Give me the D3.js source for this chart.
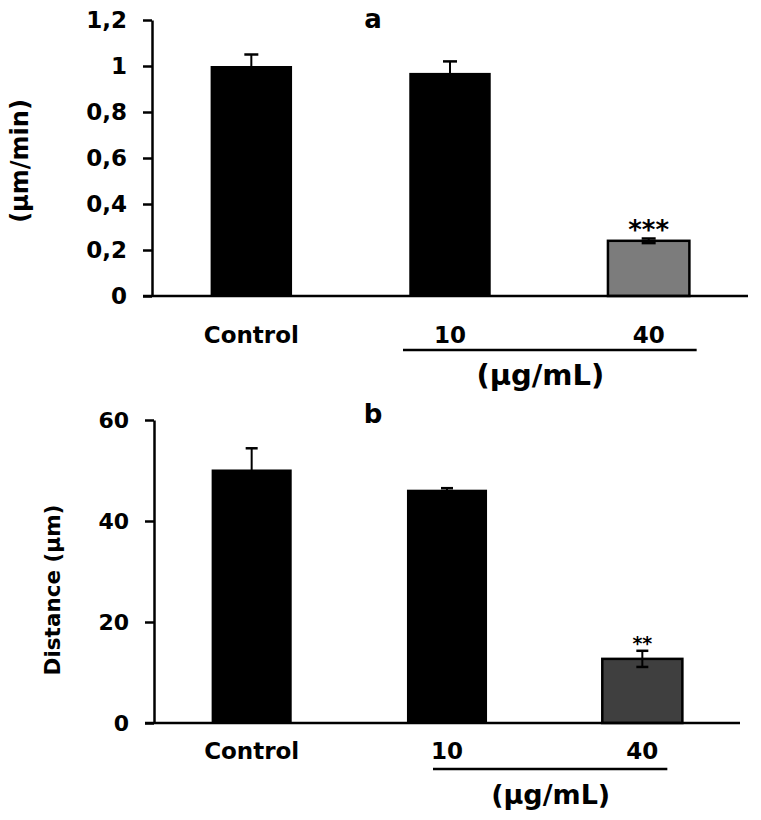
<!DOCTYPE html>
<html>
<head>
<meta charset="utf-8">
<script src="https://cdn.jsdelivr.net/npm/d3@7"></script>
<style>
  body { margin: 0; background: #fff; }
  svg text { font-family: "DejaVu Sans", Verdana, sans-serif; font-weight: bold; fill: #000; }
</style>
</head>
<body>
<svg id="chart" width="761" height="820"></svg>
<script>
// data
var groups = ["Control", "10", "40"];
var speedValues = [1.0, 0.97, 0.24];
var speedErrors = [0.05, 0.05, 0.01];
var distValues = [50.2, 46.2, 12.7];
var distErrors = [4.2, 0.3, 1.6];
var speedTicks = [0, 0.2, 0.4, 0.6, 0.8, 1, 1.2];
var speedTickLabels = ["0", "0,2", "0,4", "0,6", "0,8", "1", "1,2"];
var distTicks = [0, 20, 40, 60];
var distTickLabels = ["0", "20", "40", "60"];
var speedStars = ["", "", "***"];
var distStars = ["", "", "**"];

var svg = d3.select("#chart");

function panel(opt) {
  var g = svg.append("g");
  var x = d3.scaleBand().domain(groups).range([opt.left, opt.right]).paddingInner(0.59).paddingOuter(0.295);
  var y = d3.scaleLinear().domain([0, opt.ticks[opt.ticks.length - 1]]).range([opt.bottom, opt.top]);

  // bars
  g.selectAll("rect.bar").data(opt.values).enter().append("rect")
    .attr("class", "bar")
    .attr("x", function(d, i) { return x(groups[i]); })
    .attr("width", x.bandwidth())
    .attr("y", function(d) { return y(d); })
    .attr("height", function(d) { return y(0) - y(d); })
    .attr("fill", function(d, i) { return i == 2 ? opt.grey : "#000"; })
    .attr("stroke", "#000")
    .attr("stroke-width", function(d, i) { return i == 2 ? 2.5 : 0; });

  // error bars
  var cx = function(i) { return x(groups[i]) + x.bandwidth() / 2; };
  opt.values.forEach(function(v, i) {
    var e = opt.errors[i];
    g.append("line").attr("x1", cx(i)).attr("x2", cx(i))
      .attr("y1", y(v - e)).attr("y2", y(v + e))
      .attr("stroke", "#000").attr("stroke-width", 2);
    [v + e, v - e].forEach(function(t) {
      g.append("line").attr("x1", cx(i) - opt.cap).attr("x2", cx(i) + opt.cap)
        .attr("y1", y(t)).attr("y2", y(t))
        .attr("stroke", "#000").attr("stroke-width", 2.5);
    });
    if (opt.stars[i]) {
      g.append("text").attr("x", cx(i)).attr("y", y(v + e) + opt.starDy)
        .attr("text-anchor", "middle").style("font-size", opt.starSize + "px")
        .text(opt.stars[i]);
    }
  });

  // y axis
  var ya = g.append("g").attr("transform", "translate(" + opt.left + ",0)")
    .call(d3.axisLeft(y).tickValues(opt.ticks).tickSize(9).tickSizeOuter(0).tickPadding(16)
      .tickFormat(function(d, i) { return opt.tickLabels[i]; }));
  ya.select(".domain").attr("stroke-width", 2.5);
  ya.selectAll(".tick line").attr("stroke-width", 2.5);
  ya.selectAll(".tick text").style("font-size", opt.tickSize + "px").style("font-family", "DejaVu Sans").style("font-weight", "bold");

  // x baseline
  g.append("line").attr("x1", opt.left - 9).attr("x2", opt.right)
    .attr("y1", y(0)).attr("y2", y(0))
    .attr("stroke", "#000").attr("stroke-width", 2.5);

  // category labels
  g.selectAll("text.cat").data(groups).enter().append("text")
    .attr("class", "cat")
    .attr("x", function(d) { return x(d) + x.bandwidth() / 2; })
    .attr("y", opt.catY)
    .attr("text-anchor", "middle").style("font-size", "23px")
    .text(function(d) { return d; });

  // concentration bracket
  g.append("line")
    .attr("x1", cx(1) + opt.lineL).attr("x2", cx(2) + opt.lineR)
    .attr("y1", opt.lineY).attr("y2", opt.lineY)
    .attr("stroke", "#000").attr("stroke-width", 2.5);
  g.append("text").attr("x", (cx(1) + cx(2)) / 2 + opt.unitDx).attr("y", opt.unitY)
    .attr("text-anchor", "middle").style("font-size", opt.unitSize + "px").text("(µg/mL)");

  // y title
  g.append("text")
    .attr("transform", "translate(" + opt.titleX + "," + opt.titleY + ") rotate(-90)")
    .attr("text-anchor", "middle").style("font-size", opt.titleSize + "px")
    .text(opt.yTitle);

  // panel letter
  g.append("text").attr("x", 373).attr("y", opt.letterY)
    .attr("text-anchor", "middle").style("font-size", "26px").text(opt.letter);
}

panel({
  left: 152, right: 748, top: 20, bottom: 296,
  values: speedValues, errors: speedErrors, ticks: speedTicks, tickLabels: speedTickLabels,
  stars: speedStars, starSize: 26, starDy: 0, cap: 7, grey: "#7c7c7c", tickSize: 23,
  catY: 343, lineY: 350, lineL: -47, lineR: 48, unitY: 385, unitDx: -9, unitSize: 29,
  yTitle: "(µm/min)", titleX: 28, titleY: 161, titleSize: 24,
  letter: "a", letterY: 28
});

panel({
  left: 154, right: 740, top: 420, bottom: 723,
  values: distValues, errors: distErrors, ticks: distTicks, tickLabels: distTickLabels,
  stars: distStars, starSize: 19, starDy: -1, cap: 6, grey: "#3f3f3f", tickSize: 22,
  catY: 759, lineY: 769, lineL: -14, lineR: 25, unitY: 804, unitDx: 6, unitSize: 27,
  yTitle: "Distance (µm)", titleX: 60, titleY: 590, titleSize: 21.5,
  letter: "b", letterY: 423
});
</script>
</body>
</html>
